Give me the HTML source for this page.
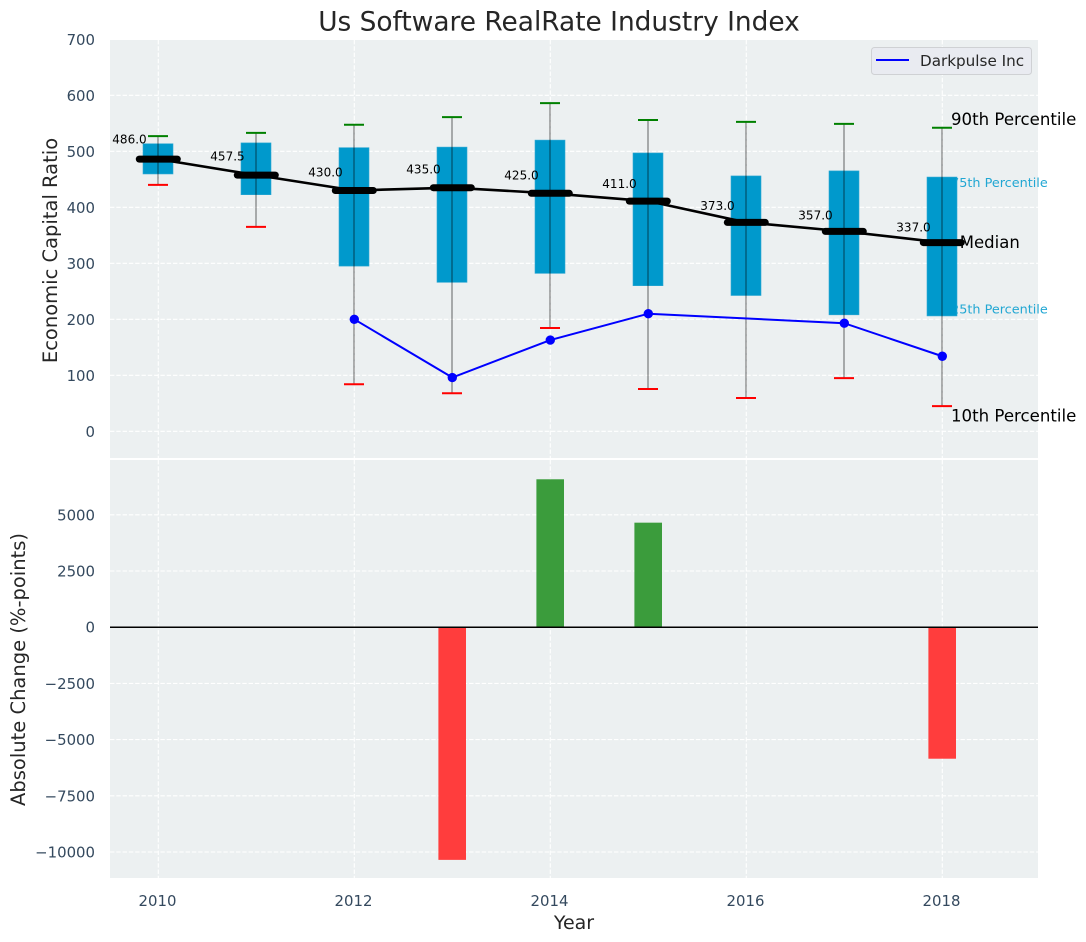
<!DOCTYPE html>
<html lang="en">
<head>
<meta charset="utf-8">
<title>Us Software RealRate Industry Index</title>
<style>
html,body{margin:0;padding:0;background:#fff;width:1086px;height:942px;overflow:hidden}
svg{display:block}
text{font-family:"DejaVu Sans","Liberation Sans",sans-serif}
</style>
</head>
<body>
<svg id="chart" xmlns="http://www.w3.org/2000/svg" width="1086" height="942" viewBox="0 0 1086 942">
  <rect x="110" y="40" width="928" height="418" fill="#ecf0f1"/>
  <rect x="110" y="460" width="928" height="418" fill="#ecf0f1"/>
  <g id="grid"></g>
  <g id="bars"></g>
  <g id="under"></g>
  <g id="boxes"></g>
  <g id="lines"></g>
  <g id="labels"></g>
  <text x="559" y="30.5" font-size="26.4" fill="#262626" text-anchor="middle">Us Software RealRate Industry Index</text>
  <text transform="translate(57 250.5) rotate(-90)" font-size="19.5" fill="#262626" text-anchor="middle">Economic Capital Ratio</text>
  <text transform="translate(25 669.5) rotate(-90)" font-size="19.5" fill="#262626" text-anchor="middle">Absolute Change (%-points)</text>
  <text x="574" y="929" font-size="19" fill="#262626" text-anchor="middle">Year</text>
  <g>
    <rect x="871.5" y="47.5" width="160" height="27" rx="3" fill="#e9ebf1" stroke="#cfd1d4" stroke-width="1"/>
    <line x1="876" y1="60" x2="909" y2="60" stroke="#0000ff" stroke-width="2"/>
    <text x="920" y="66" font-size="15.2" fill="#262626">Darkpulse Inc</text>
  </g>
</svg>
<script>
const years = [2010, 2011, 2012, 2013, 2014, 2015, 2016, 2017, 2018];
const p10 = [440, 365, 84, 68, 184.5, 75.5, 59.5, 95, 45];
const p25 = [459.5, 422.5, 295, 266, 282, 260, 242.5, 208, 206];
const medians = [486, 457.5, 430, 435, 425, 411, 373, 357, 337];
const p75 = [513.5, 515, 506.5, 507.5, 520, 497, 456, 465, 454];
const p90 = [527, 533, 547.5, 561, 586, 556, 552.5, 549, 542];
const darkpulse = [null, null, 200, 96, 163, 210, null, 193, 134];
const changes = [null, null, null, -10350, 6580, 4650, null, null, -5850];
const xTicks = [2010, 2012, 2014, 2016, 2018];
const yTicksTop = [0, 100, 200, 300, 400, 500, 600, 700];
const yTicksBottom = [-10000, -7500, -5000, -2500, 0, 2500, 5000];

const NS = 'http://www.w3.org/2000/svg';
const X = v => 158.3 + 98 * (v - 2010);
const Y1 = v => 431.3 - 0.56 * v;
const Y2 = v => 627.2 - 0.02248 * v;
const get = id => document.getElementById(id);
function make(tag, attrs, parent, txt) {
  const el = document.createElementNS(NS, tag);
  for (const k in attrs) el.setAttribute(k, attrs[k]);
  if (txt !== undefined) el.textContent = txt;
  parent.appendChild(el);
  return el;
}
const grid = get('grid'), bars = get('bars'), under = get('under'), boxes = get('boxes'), lines = get('lines'), labels = get('labels');
const gridStyle = {stroke: '#ffffff', 'stroke-width': 1.1, 'stroke-dasharray': '4.4 1.9', fill: 'none'};
const tickFill = '#34495e';

xTicks.forEach(t => {
  const a = make('line', Object.assign({x1: X(t), x2: X(t), y1: 40, y2: 458}, gridStyle), grid);
  
  
  const b = make('line', Object.assign({x1: X(t), x2: X(t), y1: 460, y2: 878}, gridStyle), grid);
  
  
  const l = make('text', {x: X(t) - 0.8, y: 906, 'font-size': 14.9, fill: tickFill, 'text-anchor': 'middle'}, labels, String(t));
  
  
});
yTicksTop.forEach(t => {
  const a = make('line', Object.assign({x1: 110, x2: 1038, y1: Y1(t), y2: Y1(t)}, gridStyle), grid);
  
  
  const l = make('text', {x: 95, y: Y1(t) + 5.5, 'font-size': 14.9, fill: tickFill, 'text-anchor': 'end'}, labels, String(t));
  
  
});
yTicksBottom.forEach(t => {
  const a = make('line', Object.assign({x1: 110, x2: 1038, y1: Y2(t), y2: Y2(t)}, gridStyle), grid);
  
  
  const l = make('text', {x: 95, y: Y2(t) + 5.5, 'font-size': 14.9, fill: tickFill, 'text-anchor': 'end'}, labels, String(t).replace('-', '\u2212'));
  
  
});

years.forEach((yr, i) => {
  const v = changes[i];
  if (v === null) return;
  const bar = make('rect', {x: X(yr) - 13.9, width: 27.6, y: Math.min(Y2(0), Y2(v)), height: Math.abs(Y2(v) - Y2(0)), fill: v >= 0 ? '#3b9c3c' : '#ff3d3d'}, bars);
  
  
});
const zero = make('line', {x1: 110, x2: 1038, y1: Y2(0), y2: Y2(0), stroke: '#000', 'stroke-width': 1.5}, bars);



const last = years.length - 1;
const lastX = X(years[last]);
const p75Label = make('text', {x: lastX + 8.8, y: Y1(p75[last]) + 10, 'font-size': 12.8, fill: '#22a7d3'}, under, '75th Percentile');


const p25Label = make('text', {x: lastX + 8.8, y: Y1(p25[last]) - 2.5, 'font-size': 12.8, fill: '#22a7d3'}, under, '25th Percentile');



years.forEach((yr, i) => {
  const x = X(yr) - 0.3;
  const box = make('rect', {x: x - 15, width: 30, y: Y1(p75[i]), height: Y1(p25[i]) - Y1(p75[i]), fill: '#0099cc', stroke: '#2fa8d2', 'stroke-width': 0.6}, boxes);
  
  
  const w = make('line', {x1: x, x2: x, y1: Y1(p90[i]), y2: Y1(p10[i]), stroke: 'rgba(0,0,0,0.42)', 'stroke-width': 1.4}, boxes);
  
  
  const hi = make('line', {x1: x - 10, x2: x + 10, y1: Y1(p90[i]), y2: Y1(p90[i]), stroke: '#008000', 'stroke-width': 2}, boxes);
  
  
  const lo = make('line', {x1: x - 10, x2: x + 10, y1: Y1(p10[i]), y2: Y1(p10[i]), stroke: '#ff0000', 'stroke-width': 2}, boxes);
  
  
});

const dpPts = years.map((yr, i) => darkpulse[i] === null ? null : [X(yr), Y1(darkpulse[i])]).filter(Boolean);
const dpLine = make('polyline', {points: dpPts.map(p => p.join(',')).join(' '), fill: 'none', stroke: '#0000ff', 'stroke-width': 2}, lines);


dpPts.forEach(p => {
  const c = make('circle', {cx: p[0], cy: p[1], r: 4.7, fill: '#0000ff'}, lines);
  
  
});

const medLine = make('polyline', {points: years.map((yr, i) => X(yr) + ',' + Y1(medians[i])).join(' '), fill: 'none', stroke: '#000', 'stroke-width': 2.6}, lines);


years.forEach((yr, i) => {
  const x = X(yr), y = Y1(medians[i]);
  const m = make('line', {x1: x - 19, x2: x + 19, y1: y, y2: y, stroke: '#000', 'stroke-width': 7, 'stroke-linecap': 'round'}, lines);
  
  
  const t = make('text', {x: x - 46, y: Y1(medians[i] * 1.052 + 10.5) + 4.5, 'font-size': 12, fill: '#000'}, labels, medians[i].toFixed(1));
  
  
});

const a90 = make('text', {x: lastX + 8.7, y: 125, 'font-size': 16.6, fill: '#000'}, labels, '90th Percentile');


const a10 = make('text', {x: lastX + 8.7, y: 421.5, 'font-size': 16.6, fill: '#000'}, labels, '10th Percentile');


const aMed = make('text', {x: lastX + 17.5, y: 248, 'font-size': 16.5, fill: '#000'}, labels, 'Median');


</script>
</body>
</html>
